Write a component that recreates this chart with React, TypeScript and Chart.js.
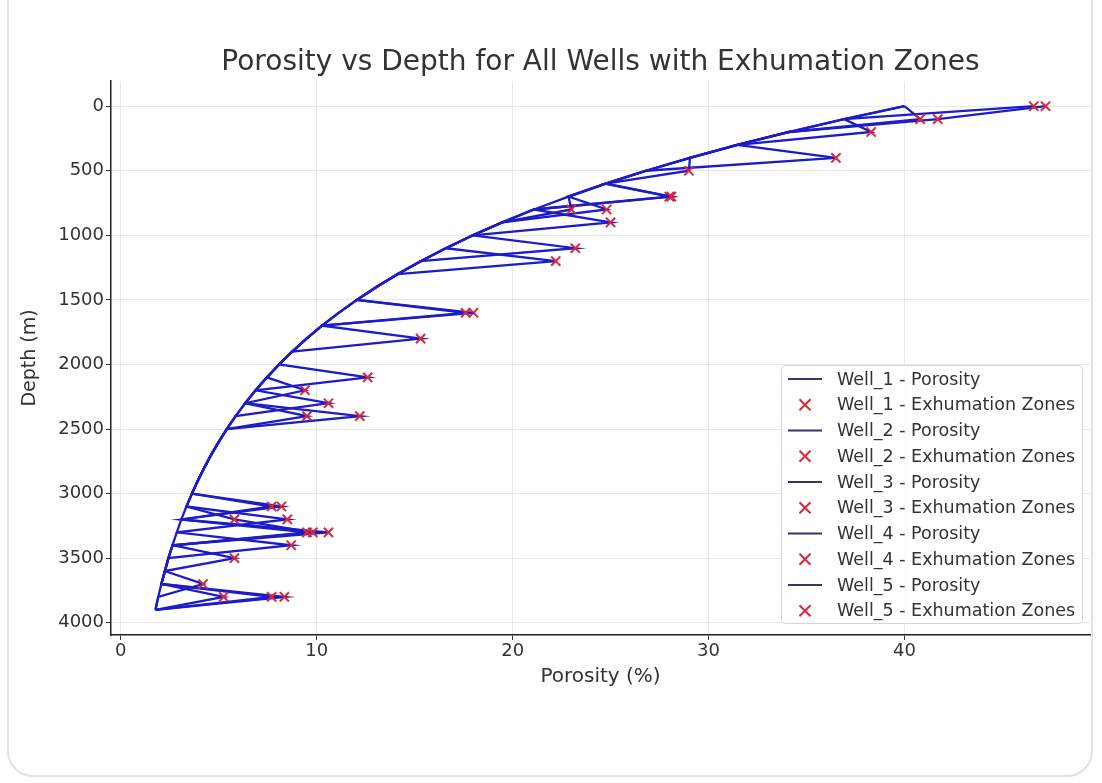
import React, { useEffect, useRef } from "react";
import { Chart, registerables } from "chart.js";

Chart.register(...registerables);

// ---------------- DATA ----------------
const DEPTHS = [
  0, 100, 200, 300, 400, 500, 600, 700, 800, 900,
  1000, 1100, 1200, 1300, 1400, 1500, 1600, 1700, 1800, 1900,
  2000, 2100, 2200, 2300, 2400, 2500, 2600, 2700, 2800, 2900,
  3000, 3100, 3200, 3300, 3400, 3500, 3600, 3700, 3800, 3900,
];

const WELL_NAMES = ["Well_1", "Well_2", "Well_3", "Well_4", "Well_5"];

const WELL_1_POROSITY = [
  47.2, 41.7, 34.09, 31.47, 36.5, 26.81, 24.75, 22.85, 24.8, 19.47,
  17.97, 16.59, 15.31, 14.14, 13.05, 12.05, 18.0, 10.27, 9.48, 8.75,
  8.08, 12.6, 6.88, 6.35, 12.2, 5.41, 5.0, 4.61, 4.26, 3.93,
  3.63, 8.2, 3.09, 10.6, 2.64, 2.43, 2.25, 2.07, 8.35, 1.77,
];
const WELL_2_POROSITY = [
  46.6, 36.92, 34.09, 31.47, 29.05, 29.0, 24.75, 22.85, 21.09, 25.0,
  17.97, 16.59, 22.2, 14.14, 13.05, 12.05, 11.12, 10.27, 15.3, 8.75,
  8.08, 7.46, 6.88, 10.6, 5.86, 5.41, 5.0, 4.61, 4.26, 3.93,
  3.63, 3.35, 8.5, 2.86, 2.64, 5.8, 2.25, 2.07, 7.7, 1.77,
];
const WELL_3_POROSITY = [
  40.0, 40.8, 34.09, 31.47, 29.05, 26.81, 24.75, 28.0, 21.09, 19.47,
  17.97, 23.2, 15.31, 14.14, 13.05, 12.05, 17.6, 10.27, 9.48, 8.75,
  8.08, 7.46, 9.4, 6.35, 5.86, 5.41, 5.0, 4.61, 4.26, 3.93,
  3.63, 7.7, 3.09, 2.86, 8.7, 2.43, 2.25, 4.2, 1.91, 1.77,
];
const WELL_4_POROSITY = [
  40.0, 36.92, 38.3, 31.47, 29.05, 26.81, 24.75, 28.1, 21.09, 19.47,
  17.97, 16.59, 15.31, 14.14, 13.05, 12.05, 11.12, 10.27, 9.48, 8.75,
  8.08, 7.46, 6.88, 6.35, 9.5, 5.41, 5.0, 4.61, 4.26, 3.93,
  3.63, 3.35, 5.8, 9.8, 2.64, 2.43, 2.25, 2.07, 5.25, 1.77,
];
const WELL_5_POROSITY = [
  40.0, 36.92, 34.09, 31.47, 29.05, 26.81, 24.75, 22.85, 23.0, 19.47,
  17.97, 16.59, 15.31, 14.14, 13.05, 12.05, 11.12, 10.27, 9.48, 8.75,
  8.08, 7.46, 6.88, 6.35, 5.86, 5.41, 5.0, 4.61, 4.26, 3.93,
  3.63, 3.35, 3.09, 9.5, 2.64, 2.43, 2.25, 2.07, 1.91, 1.77,
];

// depths (m) flagged as exhumation zones in each well
const WELL_1_EXHUMATION = [0, 100, 400, 800, 1600, 2100, 2400, 3100, 3300, 3800];
const WELL_2_EXHUMATION = [0, 500, 900, 1200, 1800, 2300, 3200, 3500, 3800];
const WELL_3_EXHUMATION = [100, 700, 1100, 1600, 2200, 3100, 3400, 3700];
const WELL_4_EXHUMATION = [200, 700, 2400, 3200, 3300, 3800];
const WELL_5_EXHUMATION = [800, 3300];

const X_TICKS = [0, 10, 20, 30, 40];
const Y_TICKS = [0, 500, 1000, 1500, 2000, 2500, 3000, 3500, 4000];

// ---------------- STYLE ----------------
const FONT = "'DejaVu Sans', sans-serif";
const LINE_COLOR = "#1c1cc8";
const LEGEND_LINE_COLOR = "#35356a";
const MARKER_COLOR = "#d8283a";
const TEXT_COLOR = "#333333";

const POROSITY = [WELL_1_POROSITY, WELL_2_POROSITY, WELL_3_POROSITY, WELL_4_POROSITY, WELL_5_POROSITY];
const EXHUMATION = [WELL_1_EXHUMATION, WELL_2_EXHUMATION, WELL_3_EXHUMATION, WELL_4_EXHUMATION, WELL_5_EXHUMATION];

function buildDatasets() {
  const ds: any[] = [];
  WELL_NAMES.forEach((name, w) => {
    const por = POROSITY[w];
    ds.push({
      label: `${name} - Porosity`,
      data: DEPTHS.map((d, i) => ({ x: por[i], y: d })),
      showLine: true,
      borderColor: LINE_COLOR,
      backgroundColor: LINE_COLOR,
      borderWidth: 2.3,
      pointRadius: 0,
      tension: 0,
      order: 100 - 2 * w,
    });
    ds.push({
      label: `${name} - Exhumation Zones`,
      data: EXHUMATION[w].map((d) => ({ x: por[DEPTHS.indexOf(d)], y: d })),
      showLine: false,
      pointStyle: "crossRot",
      pointRadius: 6.5,
      pointBorderWidth: 2,
      borderColor: MARKER_COLOR,
      backgroundColor: MARKER_COLOR,
      order: 99 - 2 * w,
    });
  });
  return ds;
}

const decorPlugin = {
  id: "decor",
  afterDraw(chart: any) {
    const ctx = chart.ctx as CanvasRenderingContext2D;
    const area = chart.chartArea;
    ctx.save();
    // title
    ctx.fillStyle = TEXT_COLOR;
    ctx.font = `28px ${FONT}`;
    ctx.textAlign = "center";
    ctx.textBaseline = "middle";
    ctx.fillText("Porosity vs Depth for All Wells with Exhumation Zones", (area.left + area.right) / 2, 63);

    // legend
    const bx = 781.5, by = 365.5, bw = 301, bh = 258, r = 4;
    ctx.beginPath();
    ctx.moveTo(bx + r, by);
    ctx.lineTo(bx + bw - r, by);
    ctx.quadraticCurveTo(bx + bw, by, bx + bw, by + r);
    ctx.lineTo(bx + bw, by + bh - r);
    ctx.quadraticCurveTo(bx + bw, by + bh, bx + bw - r, by + bh);
    ctx.lineTo(bx + r, by + bh);
    ctx.quadraticCurveTo(bx, by + bh, bx, by + bh - r);
    ctx.lineTo(bx, by + r);
    ctx.quadraticCurveTo(bx, by, bx + r, by);
    ctx.closePath();
    ctx.fillStyle = "rgba(255,255,255,0.85)";
    ctx.fill();
    ctx.strokeStyle = "#d6d6d6";
    ctx.lineWidth = 1;
    ctx.stroke();

    const items = chart.data.datasets.map((d: any) => d.label);
    ctx.font = `17.5px ${FONT}`;
    ctx.textAlign = "left";
    items.forEach((label: string, i: number) => {
      const y = 379 + i * 25.75;
      if (i % 2 === 0) {
        ctx.strokeStyle = LEGEND_LINE_COLOR;
        ctx.lineWidth = 2;
        ctx.beginPath();
        ctx.moveTo(788, y);
        ctx.lineTo(822, y);
        ctx.stroke();
      } else {
        ctx.strokeStyle = MARKER_COLOR;
        ctx.lineWidth = 2;
        const s = 5.5;
        ctx.beginPath();
        ctx.moveTo(805 - s, y - s);
        ctx.lineTo(805 + s, y + s);
        ctx.moveTo(805 - s, y + s);
        ctx.lineTo(805 + s, y - s);
        ctx.stroke();
      }
      ctx.fillStyle = TEXT_COLOR;
      ctx.fillText(label, 837, y + 1);
    });
    ctx.restore();
  },
};

export default function App() {
  const ref = useRef<HTMLCanvasElement | null>(null);

  useEffect(() => {
    if (!ref.current) return;
    const chart = new Chart(ref.current, {
      type: "scatter",
      data: { datasets: buildDatasets() },
      options: {
        responsive: false,
        animation: false,
        devicePixelRatio: 1,
        layout: { padding: { top: 81, right: 12, bottom: 0, left: 0 } },
        plugins: {
          legend: { display: false },
          tooltip: { enabled: false },
          title: { display: false },
        },
        scales: {
          x: {
            type: "linear",
            min: -0.5,
            max: 49.47,
            afterBuildTicks: (s: any) => {
              s.ticks = X_TICKS.map((v) => ({ value: v }));
            },
            afterFit: (s: any) => {
              s.height = 148;
            },
            ticks: {
              color: TEXT_COLOR,
              font: { family: FONT, size: 18 },
              padding: 1,
              callback: (v: any) => String(v),
            },
            grid: { color: "#e8e8e8", lineWidth: 1, tickColor: "#333", tickLength: 5 },
            border: { display: true, color: "#222", width: 1.5 },
            title: {
              display: true,
              text: "Porosity (%)",
              color: TEXT_COLOR,
              font: { family: FONT, size: 20 },
              padding: { top: 0, bottom: 94 },
            },
          },
          y: {
            type: "linear",
            reverse: true,
            min: -195,
            max: 4095,
            afterBuildTicks: (s: any) => {
              s.ticks = Y_TICKS.map((v) => ({ value: v }));
            },
            afterFit: (s: any) => {
              s.width = 111;
            },
            ticks: {
              color: TEXT_COLOR,
              font: { family: FONT, size: 18 },
              padding: 2,
              callback: (v: any) => String(v),
            },
            grid: { color: "#e8e8e8", lineWidth: 1, tickColor: "#333", tickLength: 5 },
            border: { display: true, color: "#222", width: 1.5 },
            title: {
              display: true,
              text: "Depth (m)",
              color: TEXT_COLOR,
              font: { family: FONT, size: 19 },
              padding: { top: 19, bottom: 0 },
            },
          },
        },
      } as any,
      plugins: [decorPlugin],
    });
    return () => chart.destroy();
  }, []);

  return (
    <div style={{ position: "absolute", left: 0, top: 0, width: 1102, height: 783, background: "#fff", overflow: "hidden" }}>
      <div
        style={{
          position: "absolute",
          left: 7,
          top: -40,
          width: 1086,
          height: 817,
          border: "2px solid #e2e2e2",
          borderRadius: 26,
          boxSizing: "border-box",
        }}
      />
      <canvas ref={ref} width={1102} height={783} style={{ position: "absolute", left: 0, top: 0, width: 1102, height: 783 }} />
    </div>
  );
}
